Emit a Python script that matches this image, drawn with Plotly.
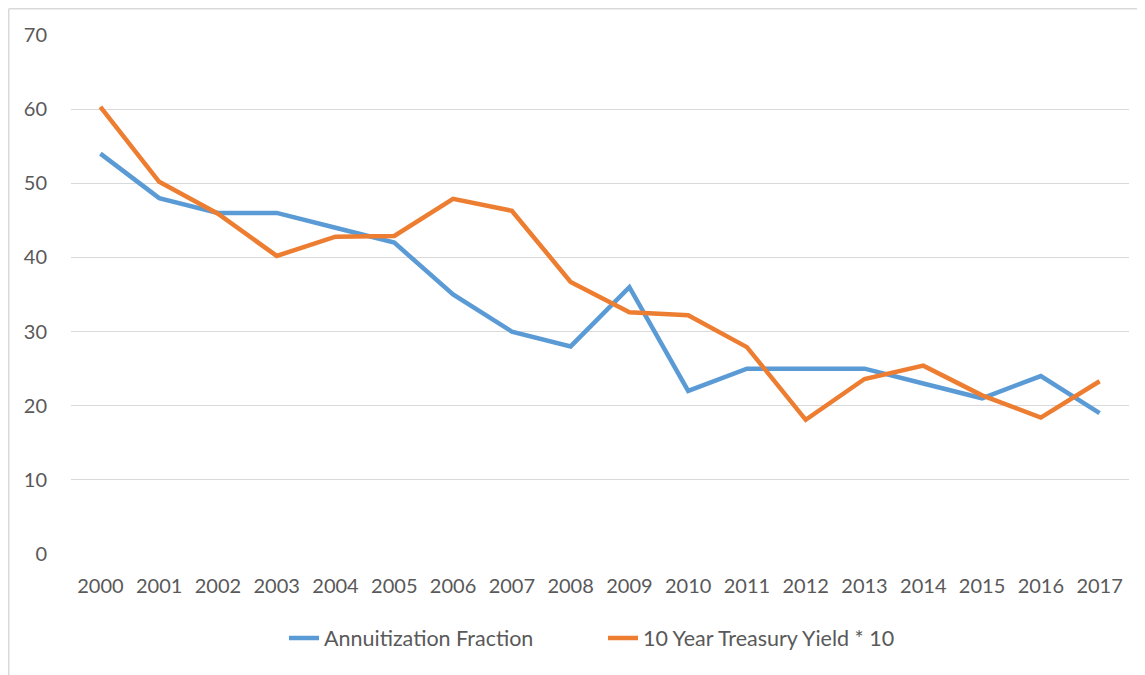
import plotly.graph_objects as go

years = [str(y) for y in range(2000, 2018)]
annuitization_fraction = [54, 48, 46, 46, 44, 42, 35, 30, 28, 36, 22, 25, 25, 25, 23, 21, 24, 19]
treasury_yield_x10 = [60.3, 50.2, 45.9, 40.2, 42.8, 42.9, 47.9, 46.3, 36.7, 32.6, 32.2, 27.9, 18.1, 23.6, 25.4, 21.4, 18.4, 23.3]

series_names = ["Annuitization Fraction", "10 Year Treasury Yield * 10"]
colors = ["#5B9BD5", "#ED7D31"]

# page has an 8px body margin; figure sized to fill the rest of the window
W, H = 1137, 667
L, R, T, B = 63, 16, 27, 121
pw = W - L - R
ph = H - T - B

fig = go.Figure()
for name, vals, c in zip(series_names, [annuitization_fraction, treasury_yield_x10], colors):
    fig.add_trace(go.Scatter(x=years, y=vals, mode="lines", name=name,
                             line=dict(color=c, width=4.5, shape="linear")))

# outer chart border (left & top visible; rest cropped)
bx = (0.75 - L) / pw
by = 1 + (T - 0.75) / ph
fig.add_shape(type="line", xref="paper", yref="paper",
              x0=bx, x1=bx, y0=-(B + 5) / ph, y1=by,
              line=dict(color="#D9D9D9", width=1.5))
fig.add_shape(type="line", xref="paper", yref="paper",
              x0=bx, x1=1 + (R + 5) / pw, y0=by, y1=by,
              line=dict(color="#D9D9D9", width=1.5))

fam = "Lato, 'Open Sans', sans-serif"
tick_font = dict(family=fam, size=20, color="#595959")
legend_font = dict(family=fam, size=21.5, color="#595959")

fig.update_layout(
    width=W, height=H,
    margin=dict(l=L, r=R, t=T, b=B, pad=0),
    paper_bgcolor="white", plot_bgcolor="white",
    font=tick_font,
    showlegend=True,
    legend=dict(orientation="h", x=(276 - L) / pw, xanchor="left", y=(546 - 630) / ph,
                yanchor="middle", font=legend_font,
                bgcolor="rgba(0,0,0,0)", entrywidth=274, entrywidthmode="pixels"),
    xaxis=dict(type="category", range=[-0.5, 17.5], showgrid=False, zeroline=False,
               showline=False, ticks="", tickfont=tick_font, ticklabelstandoff=18),
    yaxis=dict(range=[0, 70], dtick=10, showgrid=True, gridcolor="#D9D9D9", gridwidth=1.3,
               zeroline=False, showline=False, ticks="", tickfont=tick_font, ticklabelstandoff=23),
)

fig.write_html("out.html")
